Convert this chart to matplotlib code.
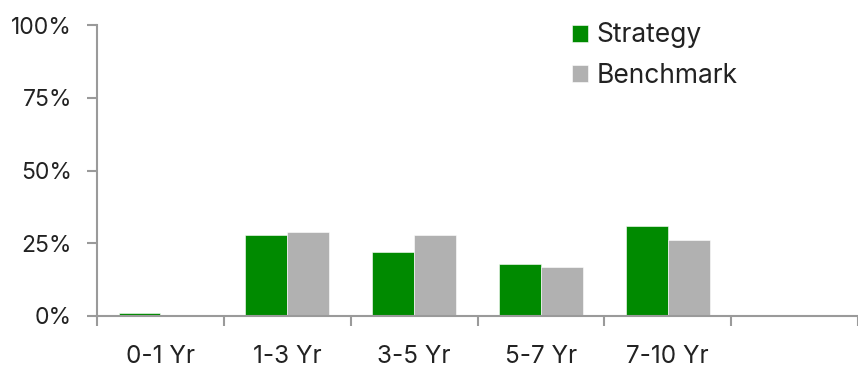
#!/usr/bin/env python3
import numpy as np
import matplotlib.pyplot as plt
from matplotlib.ticker import PercentFormatter

# data
categories = ["0-1 Yr", "1-3 Yr", "3-5 Yr", "5-7 Yr", "7-10 Yr", ""]
strategy = [1, 28, 22, 18, 31, 0]
benchmark = [0, 29, 28, 17, 26, 0]
y_ticks = [0, 25, 50, 75, 100]

GREEN = "#008a00"
GREY = "#b1b1b1"
AXIS = "#9a9a9a"
TEXT = "#222222"

plt.rcParams["font.family"] = ["Inter", "DejaVu Sans"]


def main():
    fig = plt.figure(figsize=(8.58, 3.68), dpi=100)
    W, H = 858, 368
    ax = fig.add_axes([97 / W, (H - 316) / H, (858 - 97) / W, (316 - 25) / H])

    x = np.arange(len(categories))
    w = 0.33
    ax.bar(x - w / 2, strategy, w, color=GREEN, edgecolor="white", linewidth=0.4, label="Strategy", zorder=2)
    ax.bar(x + w / 2, benchmark, w, color=GREY, edgecolor="white", linewidth=0.4, label="Benchmark", zorder=2)

    ax.set_xlim(-0.5, len(categories) - 0.5)
    ax.set_ylim(0, 100)
    ax.set_yticks(y_ticks)
    ax.yaxis.set_major_formatter(PercentFormatter(decimals=0))

    # category boundaries get the tick marks, labels sit in the middle
    ax.set_xticks(np.arange(len(categories) + 1) - 0.5)
    ax.set_xticklabels([])
    ax.set_xticks(x, minor=True)
    ax.set_xticklabels(categories, minor=True)
    ax.tick_params(axis="x", which="minor", length=0, pad=21, labelsize=17.5, labelcolor=TEXT)
    ax.tick_params(axis="x", which="major", length=7, width=1.5, color=AXIS, direction="out")
    ax.tick_params(axis="y", length=7, width=1.5, color=AXIS, pad=11, labelsize=16.5, labelcolor=TEXT)

    for side in ["top", "right"]:
        ax.spines[side].set_visible(False)
    for side in ["left", "bottom"]:
        ax.spines[side].set_color(AXIS)
        ax.spines[side].set_linewidth(1.5)

    ax.legend(loc="upper left", bbox_to_anchor=(0.61, 1.045), frameon=False, fontsize=19,
              handlelength=0.6, handleheight=0.6, handletextpad=0.35, labelspacing=0.55,
              labelcolor=TEXT, borderaxespad=0)

    fig.savefig("out.png", dpi=100)


main()
